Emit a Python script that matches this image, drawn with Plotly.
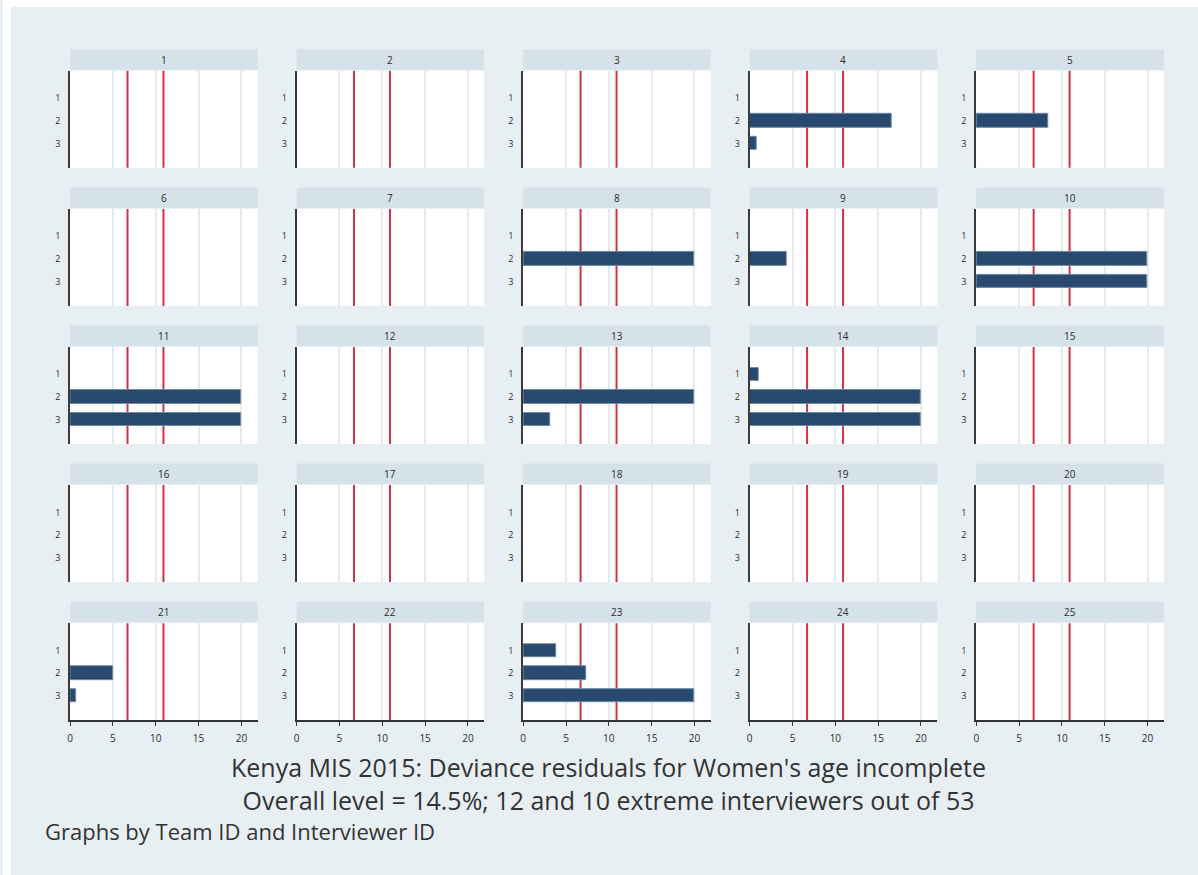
import plotly.graph_objects as go

# Team IDs (one small panel per team) and interviewer IDs within a team
teams = list(range(1, 26))
interviewers = [1, 2, 3]

# Deviance residual per interviewer (None = no bar), indexed by team
resid_int1 = [None, None, None, None, None, None, None, None, None, None,
              None, None, None, 1.05, None, None, None, None, None, None,
              None, None, 3.9, None, None]
resid_int2 = [None, None, None, 16.6, 8.45, None, None, 20, 4.3, 20,
              20, None, 20, 20, None, None, None, None, None, None,
              5.0, None, 7.4, None, None]
resid_int3 = [None, None, None, 0.8, None, None, None, None, None, 20,
              20, None, 3.15, 20, None, None, None, None, None, None,
              0.75, None, 20, None, None]

# Reference lines (lower / upper thresholds)
ref_lines = [6.7, 10.9]
x_ticks = [0, 5, 10, 15, 20]

title_1 = "Kenya MIS 2015: Deviance residuals for Women's age incomplete"
title_2 = "Overall level = 14.5%; 12 and 10 extreme interviewers out of 53"
note = "Graphs by Team ID and Interviewer ID"

W, H = 1198, 875
BG = "#e8eff3"
STRIP = "#d6e2e9"
BAR = "#284a6e"
RED = "#cc3348"
FONT = "Open Sans"

COLS, ROWS = 5, 5
col0 = 67.3          # left edge of first panel (px)
col_step = 227.1
panel_w = 188.0
row0 = 49.3          # top of first strip (px)
row_step = 138.1
strip_h = 20.5
plot_top_off = 21.5
plot_h = 97.0
x_max = 21.9

fig = go.Figure()
shapes = []
annotations = []

for i, team in enumerate(teams):
    r, c = divmod(i, COLS)
    n = i + 1
    xa = "x" if n == 1 else f"x{n}"
    ya = "y" if n == 1 else f"y{n}"
    xl = "xaxis" if n == 1 else f"xaxis{n}"
    yl = "yaxis" if n == 1 else f"yaxis{n}"

    left = col0 + c * col_step
    right = left + panel_w
    strip_top = row0 + r * row_step
    top = strip_top + plot_top_off
    bottom = top + plot_h

    vals = [resid_int1[i], resid_int2[i], resid_int3[i]]
    ys = [iv for iv, v in zip(interviewers, vals) if v is not None]
    xs = [v for v in vals if v is not None]
    fig.add_trace(go.Bar(
        x=xs, y=ys, orientation="h", width=0.58,
        marker=dict(color=BAR, line=dict(color="#6d88a4", width=1)),
        xaxis=xa, yaxis=ya, showlegend=False, hoverinfo="x+y",
    ))

    bottom_row = (r == ROWS - 1)
    fig.layout[xl] = dict(
        domain=[left / W, right / W], anchor=ya, range=[0, x_max],
        tickvals=x_ticks, showticklabels=bottom_row,
        ticks="outside" if bottom_row else "", ticklen=4, tickwidth=1,
        tickcolor="#333333", ticklabelstandoff=4,
        showline=bottom_row, linecolor="#333333", linewidth=2,
        showgrid=True, gridcolor="#e3eaf0", gridwidth=2, zeroline=False,
        tickfont=dict(family=FONT, size=10, color="#2b2b2b"),
        fixedrange=True,
    )
    fig.layout[yl] = dict(
        domain=[1 - bottom / H, 1 - top / H], anchor=xa,
        range=[4.07, -0.2], tickvals=interviewers,
        showline=True, linecolor="#3a3a3a", linewidth=2,
        showgrid=False, zeroline=False, ticks="", ticklabelstandoff=6,
        tickfont=dict(family=FONT, size=9, color="#2b2b2b"),
        fixedrange=True,
    )

    for xv in ref_lines:
        shapes.append(dict(type="line", xref=xa, yref=f"{ya} domain",
                           x0=xv, x1=xv, y0=0, y1=1, layer="below",
                           line=dict(color=RED, width=2)))

    shapes.append(dict(type="rect", xref="paper", yref="paper",
                       x0=left / W, x1=right / W,
                       y0=1 - (strip_top + strip_h) / H, y1=1 - strip_top / H,
                       fillcolor=STRIP, line=dict(width=0), layer="below"))
    annotations.append(dict(text=str(team), xref="paper", yref="paper",
                            x=(left + right) / 2 / W,
                            y=1 - (strip_top + strip_h / 2) / H,
                            showarrow=False, xanchor="center", yanchor="middle",
                            font=dict(family=FONT, size=10, color="#2b2b2b")))

# white margin at the top and left of the canvas
shapes.append(dict(type="rect", xref="paper", yref="paper", x0=0, x1=8 / W,
                   y0=0, y1=1, fillcolor="white", line=dict(width=0), layer="above"))
shapes.append(dict(type="rect", xref="paper", yref="paper", x0=0, x1=1,
                   y0=1 - 7 / H, y1=1, fillcolor="white", line=dict(width=0), layer="above"))

# two-line title block under the panels
annotations.append(dict(text=f"{title_1}<br>{title_2}", xref="paper", yref="paper",
                        x=607 / W, y=1 - 783 / H,
                        showarrow=False, xanchor="center", yanchor="middle", align="center",
                        font=dict(family=FONT, size=25, color="#333333")))
annotations.append(dict(text=note, xref="paper", yref="paper", x=40 / W, y=1 - 831 / H,
                        showarrow=False, xanchor="left", yanchor="middle",
                        font=dict(family=FONT, size=22, color="#333333")))

fig.update_layout(
    width=W, height=H, margin=dict(l=0, r=0, t=0, b=0),
    paper_bgcolor=BG, plot_bgcolor="white",
    shapes=shapes, annotations=annotations, bargap=0,
)

fig.write_html("out.html")
